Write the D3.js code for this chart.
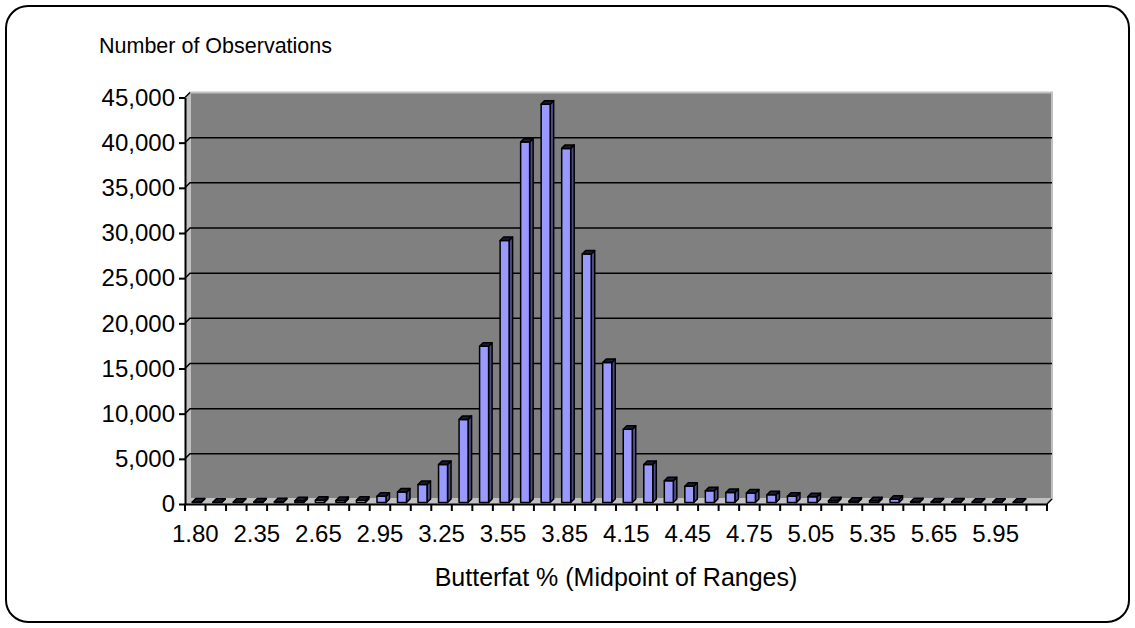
<!DOCTYPE html>
<head>
  <meta charset="utf-8">
  <script src="https://d3js.org/d3.v7.min.js"></script>
  <style>
    body { margin: 0; background: #fff; }
    svg { display: block; font-family: "Liberation Sans", Arial, sans-serif; }
  </style>
</head>
<body>
  <svg width="1135" height="628"></svg>
  <script>
    // butterfat % midpoints (only every third one is labelled on the axis)
    const categories = ['1.80', '2.15', '2.25', '2.35', '2.45', '2.55', '2.65', '2.75', '2.85', '2.95',
      '3.05', '3.15', '3.25', '3.35', '3.45', '3.55', '3.65', '3.75', '3.85', '3.95',
      '4.05', '4.15', '4.25', '4.35', '4.45', '4.55', '4.65', '4.75', '4.85', '4.95',
      '5.05', '5.15', '5.25', '5.35', '5.45', '5.55', '5.65', '5.75', '5.85', '5.95',
      '6.05', '6.15'];

    const observations = [60, 30, 40, 50, 80, 200, 250, 230, 250, 700,
      1150, 2000, 4200, 9200, 17300, 29000, 39900, 44100, 39200, 27500,
      15500, 8100, 4200, 2400, 1800, 1300, 1100, 1050, 850, 700,
      650, 200, 150, 180, 350, 80, 60, 50, 40, 30,
      20, null];

    const yTicks = [0, 5000, 10000, 15000, 20000, 25000, 30000, 35000, 40000, 45000];

    const svg = d3.select('svg');

    const plotLeft = 185, plotRight = 1047, plotBase = 504, plotTop = 97.5;
    const depth = 5;          // wall depth
    const barShift = 1.5;     // bars sit a little back from the front edge
    const barDepth = 3.5;
    const barWidth = 9;

    const x = d3.scaleBand().domain(categories).range([plotLeft, plotRight]).padding(0);
    const y = d3.scaleLinear().domain([0, 45000]).range([plotBase, plotTop]);

    // outer frame
    svg.append('rect')
      .attr('x', 6).attr('y', 6).attr('width', 1123).attr('height', 616)
      .attr('rx', 22)
      .attr('fill', 'none').attr('stroke', '#000').attr('stroke-width', 2);

    /*****************************************************
    ** walls + floor
    ******************************************************/
    const yMax = y(45000), y0 = y(0);

    svg.append('rect')
      .attr('x', plotLeft + depth).attr('y', yMax - depth)
      .attr('width', plotRight - plotLeft).attr('height', y0 - yMax)
      .attr('fill', '#808080').attr('stroke', '#c0c0c0').attr('stroke-width', 2);

    svg.append('path')
      .attr('d', `M${plotLeft},${y0}L${plotLeft},${yMax}L${plotLeft + depth},${yMax - depth}L${plotLeft + depth},${y0 - depth}Z`)
      .attr('fill', '#c0c0c0');

    svg.append('path')
      .attr('d', `M${plotLeft},${y0}L${plotLeft + depth},${y0 - depth}L${plotRight + depth},${y0 - depth}L${plotRight},${y0}Z`)
      .attr('fill', '#c0c0c0');

    // gridlines on the back wall + diagonals on the side wall
    svg.selectAll('.grid')
      .data(yTicks.filter(v => v > 0 && v < 45000)).enter().append('path')
      .attr('class', 'grid')
      .attr('d', v => `M${plotLeft},${y(v)}L${plotLeft + depth},${y(v) - depth}H${plotRight + depth}`)
      .attr('fill', 'none').attr('stroke', '#000').attr('stroke-width', 1.5);

    svg.append('path')
      .attr('d', `M${plotLeft},${yMax}L${plotLeft + depth},${yMax - depth}`)
      .attr('stroke', '#000').attr('stroke-width', 1.5);

    /*****************************************************
    ** 3d columns
    ******************************************************/
    const bars = categories.map((c, i) => ({ cat: c, value: observations[i] }))
      .filter(d => d.value !== null);

    const g = svg.append('g')
      .attr('stroke', '#000').attr('stroke-width', 1.5).attr('stroke-linejoin', 'round');

    const col = g.selectAll('g.col').data(bars).enter().append('g').attr('class', 'col');

    const geo = d => {
      const cx = x(d.cat) + x.bandwidth() / 2;
      const x0 = cx - 3, x1 = x0 + barWidth;
      const yt = y(d.value) - barShift, yb = y(0) - barShift;
      return { x0, x1, yt, yb };
    };

    // side
    col.append('path')
      .attr('d', d => {
        const b = geo(d);
        return `M${b.x1},${b.yt}L${b.x1 + barDepth},${b.yt - barDepth}L${b.x1 + barDepth},${b.yb - barDepth}L${b.x1},${b.yb}Z`;
      })
      .attr('fill', '#4d4d85');

    // front
    col.append('rect')
      .attr('x', d => geo(d).x0)
      .attr('y', d => geo(d).yt)
      .attr('width', barWidth)
      .attr('height', d => geo(d).yb - geo(d).yt)
      .attr('fill', '#9999ff');

    // top
    col.append('path')
      .attr('d', d => {
        const b = geo(d);
        return `M${b.x0},${b.yt}L${b.x0 + barDepth},${b.yt - barDepth}L${b.x1 + barDepth},${b.yt - barDepth}L${b.x1},${b.yt}Z`;
      })
      .attr('fill', '#1a1a33');

    /*****************************************************
    ** axes
    ******************************************************/
    const yAxis = svg.append('g')
      .attr('transform', `translate(${plotLeft},0)`)
      .call(d3.axisLeft(y).tickValues(yTicks).tickSize(6).tickSizeOuter(0)
        .tickFormat(d3.format(',')).tickPadding(4));
    yAxis.selectAll('line').attr('stroke', '#000').attr('stroke-width', 2);
    yAxis.select('.domain').attr('stroke', '#000').attr('stroke-width', 2);
    yAxis.selectAll('text').attr('font-size', 24).attr('fill', '#000')
      .attr('font-family', '"Liberation Sans", Arial, sans-serif');

    const xAxis = svg.append('g')
      .attr('transform', `translate(0,${y0})`)
      .call(d3.axisBottom(x).tickSize(0).tickSizeOuter(0).tickPadding(21)
        .tickFormat((d, i) => i % 3 === 0 ? d : ''));
    xAxis.select('.domain').attr('stroke', '#000').attr('stroke-width', 2);
    xAxis.selectAll('text').attr('font-size', 24).attr('fill', '#000')
      .attr('font-family', '"Liberation Sans", Arial, sans-serif');

    // tick marks sit on the category boundaries
    const edges = categories.map(c => x(c)).concat([plotRight]);
    svg.selectAll('.xtick').data(edges).enter().append('line')
      .attr('class', 'xtick')
      .attr('x1', d => d).attr('x2', d => d)
      .attr('y1', y0).attr('y2', y0 + 7)
      .attr('stroke', '#000').attr('stroke-width', 2);

    svg.append('path')
      .attr('d', `M${plotRight},${y0}L${plotRight + depth},${y0 - depth}`)
      .attr('stroke', '#000').attr('stroke-width', 1.5);

    // titles
    svg.append('text')
      .attr('x', 99).attr('y', 53)
      .attr('font-size', 21.5)
      .text('Number of Observations');

    svg.append('text')
      .attr('x', (plotLeft + plotRight) / 2).attr('y', 586)
      .attr('text-anchor', 'middle')
      .attr('font-size', 25)
      .text('Butterfat % (Midpoint of Ranges)');
  </script>
</body>
